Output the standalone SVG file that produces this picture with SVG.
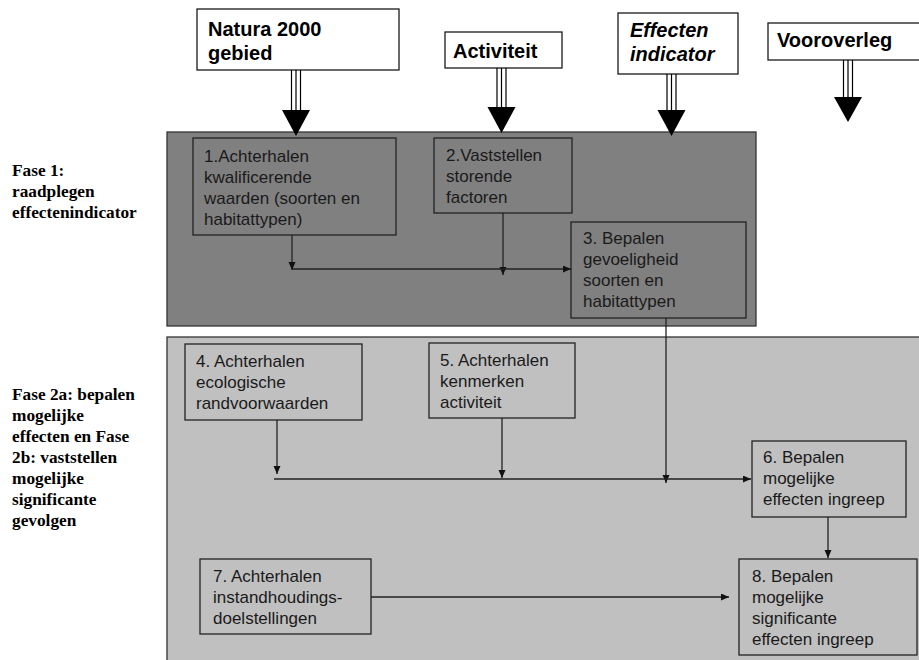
<svg xmlns="http://www.w3.org/2000/svg" width="919" height="660" viewBox="0 0 919 660">
<defs>
<style>
.top{fill:#fff;stroke:#1a1a1a;stroke-width:1.3}
.tt{font-family:"Liberation Sans",Arial,sans-serif;font-weight:bold;font-size:20px;fill:#000}
.ti{font-style:italic}
.phase{font-family:"Liberation Serif","Times New Roman",serif;font-weight:bold;font-size:17.3px;fill:#000}
.dark{fill:#808080;stroke:#333;stroke-width:1.3}
.light{fill:#c0c0c0;stroke:#333;stroke-width:1.3}
.nd{fill:#808080;stroke:#222;stroke-width:1.3}
.nl{fill:#c0c0c0;stroke:#222;stroke-width:1.3}
.bt{font-family:"Liberation Sans",Arial,sans-serif;font-size:17px;fill:#1a1a1a}
.sh{stroke:#000;stroke-width:1.2;fill:none}
.hd{fill:#000}
.cn{stroke:#222;stroke-width:1.3;fill:none;marker-end:url(#ah)}
</style>
<marker id="ah" markerUnits="userSpaceOnUse" markerWidth="9" markerHeight="8" refX="8" refY="3.5" orient="auto">
<path d="M0,0 L8,3.5 L0,7 z" fill="#111"/>
</marker>
</defs>

<g id="phase-bg">
<rect class="dark" x="167" y="132" width="589" height="194"/>
<rect class="light" x="167" y="337" width="760" height="340"/>
</g>

<g id="phase-labels">
<text class="phase" x="12" y="176">Fase 1:</text>
<text class="phase" x="12" y="197">raadplegen</text>
<text class="phase" x="12" y="218">effectenindicator</text>
<text class="phase" x="12" y="400">Fase 2a: bepalen</text>
<text class="phase" x="12" y="421">mogelijke</text>
<text class="phase" x="12" y="442">effecten en Fase</text>
<text class="phase" x="12" y="463">2b: vaststellen</text>
<text class="phase" x="12" y="484">mogelijke</text>
<text class="phase" x="12" y="505">significante</text>
<text class="phase" x="12" y="526">gevolgen</text>
</g>

<g id="natura">
<rect class="top" x="197" y="9" width="202" height="61"/>
<text class="tt" x="208" y="36">Natura 2000</text>
<text class="tt" x="208" y="60">gebied</text>
</g>
<g id="activiteit">
<rect class="top" x="445" y="32" width="117" height="36"/>
<text class="tt" x="453" y="58">Activiteit</text>
</g>
<g id="effecten">
<rect class="top" x="618" y="13" width="120" height="61"/>
<text class="tt ti" x="630" y="37">Effecten</text>
<text class="tt ti" x="630" y="61">indicator</text>
</g>
<g id="vooroverleg">
<rect class="top" x="768" y="23" width="160" height="37"/>
<text class="tt" x="777" y="47">Vooroverleg</text>
</g>

<g id="n1">
<rect class="nd" x="193" y="138" width="203" height="97"/>
<text class="bt" x="204" y="162">1.Achterhalen</text>
<text class="bt" x="204" y="183">kwalificerende</text>
<text class="bt" x="204" y="204">waarden (soorten en</text>
<text class="bt" x="204" y="225">habitattypen)</text>
</g>
<g id="n2">
<rect class="nd" x="434" y="138" width="138" height="75"/>
<text class="bt" x="446" y="161">2.Vaststellen</text>
<text class="bt" x="446" y="182">storende</text>
<text class="bt" x="446" y="203">factoren</text>
</g>
<g id="n3">
<rect class="nd" x="571" y="222" width="175" height="96"/>
<text class="bt" x="583" y="244">3. Bepalen</text>
<text class="bt" x="583" y="265">gevoeligheid</text>
<text class="bt" x="583" y="286">soorten en</text>
<text class="bt" x="583" y="307">habitattypen</text>
</g>
<g id="n4">
<rect class="nl" x="185" y="344" width="177" height="76"/>
<text class="bt" x="196" y="367">4. Achterhalen</text>
<text class="bt" x="196" y="388">ecologische</text>
<text class="bt" x="196" y="409">randvoorwaarden</text>
</g>
<g id="n5">
<rect class="nl" x="429" y="343" width="146" height="75"/>
<text class="bt" x="440" y="366">5. Achterhalen</text>
<text class="bt" x="440" y="387">kenmerken</text>
<text class="bt" x="440" y="408">activiteit</text>
</g>
<g id="n6">
<rect class="nl" x="752" y="441" width="154" height="76"/>
<text class="bt" x="763" y="463">6. Bepalen</text>
<text class="bt" x="763" y="484">mogelijke</text>
<text class="bt" x="763" y="505">effecten ingreep</text>
</g>
<g id="n7">
<rect class="nl" x="200" y="559" width="171" height="75"/>
<text class="bt" x="213" y="582">7. Achterhalen</text>
<text class="bt" x="213" y="603">instandhoudings-</text>
<text class="bt" x="213" y="624">doelstellingen</text>
</g>
<g id="n8">
<rect class="nl" x="739" y="559" width="178" height="96"/>
<text class="bt" x="752" y="582">8. Bepalen</text>
<text class="bt" x="752" y="603">mogelijke</text>
<text class="bt" x="752" y="624">significante</text>
<text class="bt" x="752" y="645">effecten ingreep</text>
</g>

<g id="connectors">
<g id="big-arrows">
<path class="sh" d="M291.5,70 V112 M296,70 V112 M300.5,70 V112"/>
<polygon class="hd" points="282,110 310,110 296,136"/>
<path class="sh" d="M497,68 V109 M501.5,68 V109 M506,68 V109"/>
<polygon class="hd" points="487.5,107 515.5,107 501.5,133"/>
<path class="sh" d="M667,74 V112 M671.5,74 V112 M676,74 V112"/>
<polygon class="hd" points="657.5,110 685.5,110 671.5,136"/>
<path class="sh" d="M843.5,60 V99 M848,60 V99 M852.5,60 V99"/>
<polygon class="hd" points="834,97 862,97 848,122"/>
</g>
<path class="cn" d="M292,235 V270"/>
<path class="cn" d="M503,213 V275"/>
<path class="cn" d="M292,269 H571"/>
<path class="cn" d="M666,318 V483"/>
<path class="cn" d="M277,420 V474"/>
<path class="cn" d="M502,418 V478"/>
<path class="cn" d="M274,479 H751"/>
<path class="cn" d="M828,517 V558"/>
<path class="cn" d="M371,597 H729"/>
</g>
</svg>
